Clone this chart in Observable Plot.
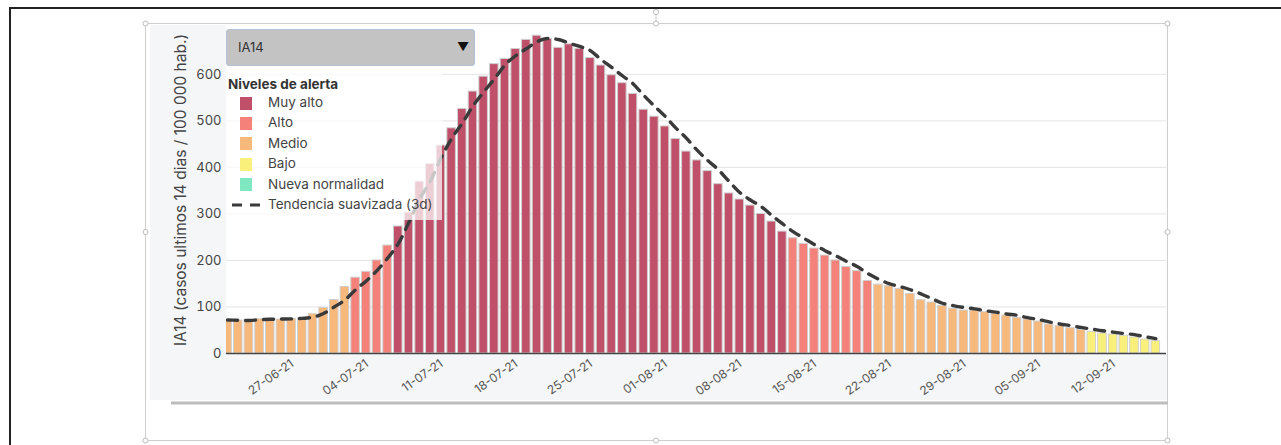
<!DOCTYPE html>
<html>
<head>
<meta charset="utf-8">
<script src="https://cdn.jsdelivr.net/npm/d3@7"></script>
<script src="https://cdn.jsdelivr.net/npm/@observablehq/plot@0.6"></script>
<style>
  body { margin: 0; background: #fff; font-family: Inter, "Open Sans", sans-serif; }
  #wrap { position: relative; width: 1281px; height: 445px; overflow: hidden; }
  #wrap > * { position: absolute; }
  .bg { left: 150px; top: 25px; width: 1018px; height: 375px; background: #f5f6f8; }
  .dropdown { left: 226px; top: 29px; width: 247px; height: 35px; background: #c3c3c3; border: 1px solid #b3c1d6; border-radius: 3px; }
  .dropdown span { position: absolute; top: 9px; font-size: 13px; color: #333; }
  .legend { left: 226px; top: 70px; width: 216px; height: 150px; background: rgba(255,255,255,0.72); }
  .legend div { position: absolute; font-size: 13.5px; color: #444; white-space: nowrap; }
  .legend .sw { width: 12px; height: 13px; }
  .ytitle { left: 180px; top: 190px; transform: translate(-50%,-50%) rotate(-90deg); font-size: 15.5px; color: #444; white-space: nowrap; }
</style>
</head>
<body>
<div id="wrap">
  <div class="bg"></div>
</div>
<script>
// ---- data ----
const levelNames = ["Muy alto", "Alto", "Medio", "Bajo", "Nueva normalidad"];
const levelColors = ["#c0506a", "#f4817a", "#f7b87b", "#f8f07a", "#7fe8c0"];
const levelThresholds = [25, 50, 150, 250];
const startDate = "2021-06-21";
const ia14 = [
  72, 71, 72, 73.7, 74.5, 73, 74, 75, 84.5, 98,
  115, 143, 163, 175.5, 200, 232, 273, 303, 369.5, 407.5,
  447, 484, 525.6, 563, 595, 622, 633, 654.5, 674, 683,
  676, 657, 664.5, 655, 635, 619, 598, 581, 558, 524,
  509, 488, 461, 434, 415, 392, 364, 344, 331, 318,
  300, 283.6, 262, 247.7, 235.6, 225.6, 210.5, 200, 186, 177,
  156, 148, 144.6, 139, 128, 114.6, 109.6, 102, 96, 92.4,
  92.4, 88.8, 85.2, 81.6, 76.6, 73, 68.7, 62.3, 58.7, 54.4,
  50.5, 46.5, 43, 40.8, 38, 34.4, 30, 26.5
];
const trend3d = [
  72, 71.5, 71, 72.5, 73.5, 74, 74.5, 75.5, 78, 86,
  100, 115, 137, 156, 178, 205, 236, 282, 332, 370,
  420, 462, 495, 532, 562, 590, 620, 640, 655, 670,
  677, 675, 667, 660, 651, 632, 615, 597, 580, 555,
  532, 510, 485, 463, 437, 415, 395, 370, 346, 330,
  316, 297, 279, 262, 248, 234, 221, 210, 198, 187,
  172, 160, 150, 144, 137, 128, 118, 108, 103, 99,
  96, 92, 89, 85, 82, 77, 73, 68, 63.5, 60,
  56, 52.5, 49, 46, 43, 40.5, 36, 32
];
const tickDates = ["2021-06-27","2021-07-04","2021-07-11","2021-07-18","2021-07-25","2021-08-01",
  "2021-08-08","2021-08-15","2021-08-22","2021-08-29","2021-09-05","2021-09-12"];
const yTicks = [0, 100, 200, 300, 400, 500, 600];
const yTitle = "IA14 (casos ultimos 14 dias / 100 000 hab.)";

// ---- build ----
const start = new Date(startDate + "T00:00:00Z");
const data = ia14.map((v, i) => ({ date: d3.utcDay.offset(start, i), v, t: trend3d[i] }));
const ticks = tickDates.map(s => new Date(s + "T00:00:00Z"));
const hr = (d, h) => new Date(+d + h * 3600e3);
const fmt = d3.utcFormat("%d-%m-%y");

const chart = Plot.plot({
  width: 1281, height: 445,
  marginLeft: 226, marginRight: 115, marginTop: 25, marginBottom: 92,
  style: { background: "transparent", fontFamily: "Inter, 'Open Sans', sans-serif", overflow: "visible" },
  x: { type: "utc", axis: null, domain: [hr(start, -2.4), hr(data[data.length - 1].date, 24)] },
  y: { domain: [0, 705] },
  color: { type: "threshold", domain: levelThresholds, range: [...levelColors].reverse() },
  marks: [
    Plot.frame({ fill: "white", stroke: null }),
    Plot.gridY(yTicks.slice(1), { stroke: "#e4e4e4", strokeOpacity: 1 }),
    Plot.rectY(data, {
      x1: d => hr(d.date, -9.6), x2: d => hr(d.date, 9.6), y: "v",
      fill: "v", stroke: "#cfcfcf", strokeWidth: 1, clip: true
    }),
    Plot.ruleY([0], { stroke: "#444", strokeWidth: 1.5 }),
    Plot.line(data, {
      x: "date", y: "t", stroke: "#3a3a3a", strokeWidth: 3.4, strokeDasharray: "10,8",
      curve: "monotone-x", clip: true
    }),
    Plot.axisY({ ticks: yTicks, tickSize: 0, tickPadding: 5, fontSize: 13, fill: "#444", label: null }),
    Plot.text(ticks, {
      x: d => d, frameAnchor: "bottom", text: d => fmt(d), rotate: -35,
      textAnchor: "end", lineAnchor: "top", dx: -2, dy: 5, fontSize: 12, fill: "#555"
    })
  ]
});
const wrap = document.getElementById("wrap");
chart.style.left = "0px"; chart.style.top = "0px";
wrap.appendChild(chart);

// decorations (frame, handles, scrollbar)
const ns = "http://www.w3.org/2000/svg";
const deco = document.createElementNS(ns, "svg");
deco.setAttribute("width", 1281); deco.setAttribute("height", 445);
deco.style.left = "0px"; deco.style.top = "0px";
deco.innerHTML = `
  <line x1="10" y1="8" x2="1281" y2="8" stroke="#222" stroke-width="2"/>
  <line x1="10" y1="7" x2="10" y2="445" stroke="#222" stroke-width="2"/>
  <rect x="145.5" y="23.5" width="1022" height="417" fill="none" stroke="#cfcfcf" stroke-width="1"/>
  <line x1="171" y1="403" x2="1168" y2="403" stroke="#bdbdbd" stroke-width="3"/>
  <line x1="656" y1="13" x2="656" y2="23" stroke="#cfcfcf"/>
  ${[[145.5,23.5],[656,23.5],[1167.5,23.5],[145.5,232],[1167.5,232],[145.5,440.5],[656,440.5],[1167.5,440.5],[656,12]]
    .map(([x,y]) => `<circle cx="${x}" cy="${y}" r="2.5" fill="#fff" stroke="#bbb"/>`).join("")}
`;
wrap.appendChild(deco);

// y title
const yt = document.createElement("div");
yt.className = "ytitle"; yt.textContent = yTitle;
wrap.appendChild(yt);

// dropdown
const dd = document.createElement("div");
dd.className = "dropdown";
dd.innerHTML = `<span style="left:11px">IA14</span><span style="left:230px;font-size:12px;color:#111">▼</span>`;
wrap.appendChild(dd);

// legend
const lg = document.createElement("div");
lg.className = "legend";
let html = `<div style="left:2px;top:6px;font-weight:700;color:#333">Niveles de alerta</div>`;
levelNames.forEach((n, i) => {
  const cy = 33 + i * 20.4;
  html += `<div class="sw" style="left:14px;top:${cy - 6.5}px;background:${levelColors[i]}"></div>`;
  html += `<div style="left:42px;top:${cy - 9}px">${n}</div>`;
});
const ty = 33 + 5 * 20.4;
html += `<svg style="position:absolute;left:4px;top:${ty - 3}px" width="34" height="6"><line x1="2" y1="3" x2="32" y2="3" stroke="#3a3a3a" stroke-width="3" stroke-dasharray="10,8"/></svg>`;
html += `<div style="left:42px;top:${ty - 9}px">Tendencia suavizada (3d)</div>`;
lg.innerHTML = html;
wrap.appendChild(lg);
</script>
</body>
</html>
